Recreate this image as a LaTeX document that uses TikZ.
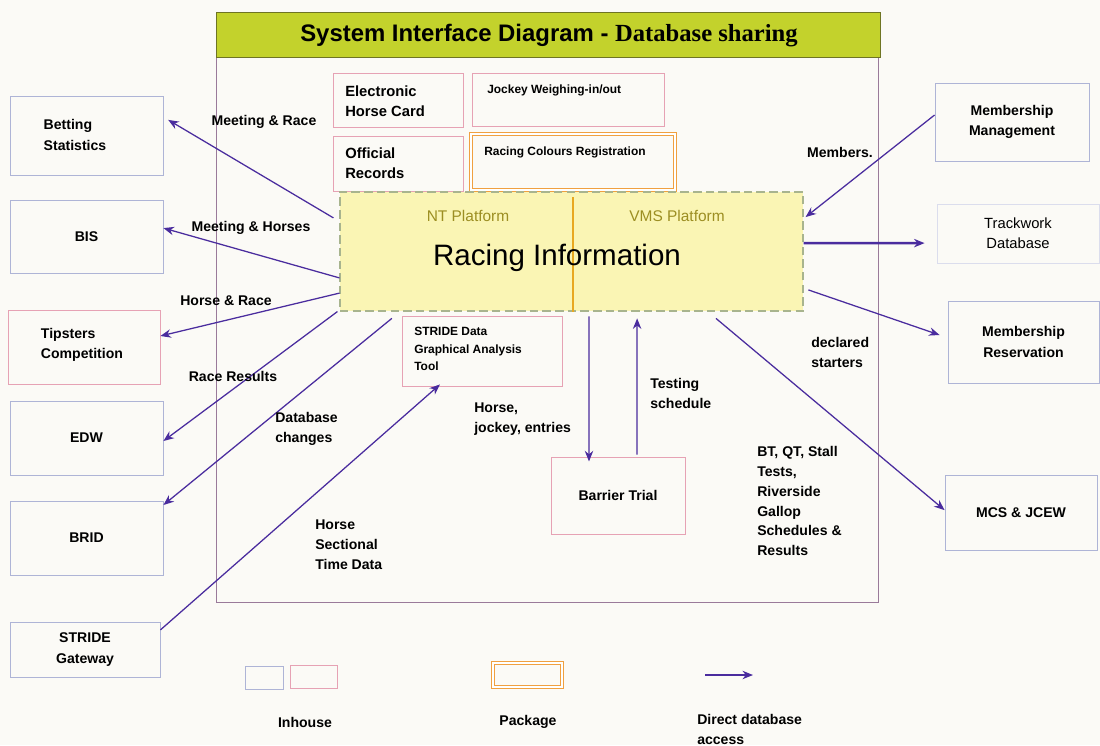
\documentclass[tikz,border=0pt]{standalone}
\usepackage{fontspec}
\setmainfont{Liberation Sans}
\newfontfamily\serifbold{Liberation Serif}
\usetikzlibrary{arrows.meta,fit}

\definecolor{flow}{HTML}{4A2C9E}
\definecolor{inblue}{HTML}{AEB4D6}
\definecolor{inpink}{HTML}{E6A2B4}
\definecolor{pkgorange}{HTML}{F0A040}
\definecolor{framec}{HTML}{9A7A9A}
\definecolor{titlefill}{HTML}{C3D22C}
\definecolor{titleline}{HTML}{6E7424}
\definecolor{rifill}{HTML}{FAF5B4}
\definecolor{riline}{HTML}{A8B48E}
\definecolor{splitc}{HTML}{E8A820}
\definecolor{platc}{HTML}{9C8E22}
\definecolor{paper}{HTML}{FBFAF6}

\tikzset{
  boxfit/.style={inner sep=0pt, line width=0.6pt},
  bluebox/.style={boxfit, draw=inblue},
  pinkbox/.style={boxfit, draw=inpink},
  pkgbox/.style={boxfit, draw=pkgorange, double=white, double distance=1.4pt, line width=0.9pt},
  boxtext/.style={inner sep=0pt, align=center, font=\bfseries\fontsize{10}{14.5}\selectfont},
  smalltext/.style={inner sep=0pt, font=\bfseries\fontsize{8.5}{13}\selectfont},
  flowlabel/.style={inner sep=0pt, align=left, font=\bfseries\fontsize{10}{14.2}\selectfont},
  flowarrow/.style={draw=flow, line width=0.9pt, -{Stealth[length=7.5pt,width=6pt]}},
}

\begin{document}
\begin{tikzpicture}[x=0.025cm, y=-0.025cm]
\useasboundingbox (0,0) rectangle (1100,745);
\fill[paper] (0,0) rectangle (1100,745);

% main frame and title bar
\node[boxfit, draw=framec, fit={(216,57) (878,602)}] (frame) {};
\node[boxfit, draw=titleline, fill=titlefill, fit={(216,12) (880,57)}] (title) {};
\node (titletext) at (549,36) {\bfseries\fontsize{17}{20}\selectfont System Interface Diagram - {\serifbold\fontsize{17.5}{20}\selectfont Database sharing}};

% packages and in-house modules inside the frame
\node[pinkbox, fit={(333,73) (463,127)}] (ehc) {};
\node[boxtext, align=left, anchor=west, font=\bfseries\fontsize{10.5}{14.5}\selectfont] (ehct) at (345,101) {Electronic\\Horse Card};
\node[pinkbox, fit={(472,73) (664,126)}] (jw) {};
\node[smalltext, anchor=west] (jwt) at (487,90) {Jockey Weighing-in/out};
\node[pinkbox, fit={(333,136) (463,191)}] (orec) {};
\node[boxtext, align=left, anchor=west, font=\bfseries\fontsize{10.5}{14.5}\selectfont] (orect) at (345,163) {Official\\Records};
\node[pkgbox, fit={(471,134) (675,190)}] (rcr) {};
\node[smalltext, anchor=west] (rcrt) at (484,152) {Racing Colours Registration};

% central database
\node[boxfit, draw=riline, fill=rifill, dashed, dash pattern=on 6pt off 3pt, line width=0.8pt, fit={(340,192) (803,311)}] (ri) {};
\draw[splitc, line width=1pt] (ri.north) ++(0.04cm,-0.15cm) coordinate (splittop) -- (splittop |- ri.south);
\node[text=platc, font=\fontsize{11}{13}\selectfont] (nt) at (468,216) {NT Platform};
\node[text=platc, font=\fontsize{11}{13}\selectfont] (vms) at (677,216) {VMS Platform};
\node[font=\fontsize{21}{24}\selectfont] (ritext) at (557,258) {Racing Information};

\node[pinkbox, fit={(402,316) (562,386)}] (sdg) {};
\node[smalltext, align=left, anchor=north west, font=\bfseries\fontsize{8.5}{12.5}\selectfont] (sdgt) at (414,327) {STRIDE Data\\Graphical Analysis\\Tool};
\node[pinkbox, fit={(551,457) (685,534)}] (bt) {};
\node[boxtext] (btt) at (bt.center) {Barrier Trial};

% systems on the left
\node[bluebox, fit={(10,96) (163,175)}] (bet) {};
\node[boxtext, align=left] (bett) at (75,135) {Betting\\Statistics};
\node[bluebox, fit={(10,200) (163,273)}] (bis) {};
\node[boxtext] (bist) at (bis.center) {BIS};
\node[pinkbox, fit={(8,310) (160,384)}] (tip) {};
\node[boxtext, align=left] (tipt) at (82,345) {Tipsters\\Competition};
\node[bluebox, fit={(10,401) (163,475)}] (edw) {};
\node[boxtext] (edwt) at (edw.center) {EDW};
\node[bluebox, fit={(10,501) (163,575)}] (brid) {};
\node[boxtext] (bridt) at (brid.center) {BRID};
\node[bluebox, fit={(10,622) (160,677)}] (sg) {};
\node[boxtext] (sgt) at (sg.center) {STRIDE\\Gateway};

% systems on the right
\node[bluebox, fit={(935,83) (1089,161)}] (mm) {};
\node[boxtext] (mmt) at (mm.center) {Membership\\Management};
\node[boxfit, draw=inblue!45, fit={(937,204) (1099,263)}] (tw) {};
\node[boxtext, font=\fontsize{10.5}{14.5}\selectfont] (twt) at (tw.center) {Trackwork\\Database};
\node[bluebox, fit={(948,301) (1099,383)}] (mr) {};
\node[boxtext] (mrt) at (mr.center) {Membership\\Reservation};
\node[bluebox, fit={(945,475) (1097,550)}] (mcs) {};
\node[boxtext] (mcst) at (mcs.center) {MCS \& JCEW};

% data flows
\draw[flowarrow] ([yshift=0.84cm,xshift=-0.15cm]ri.west) -- ([yshift=0.39cm,xshift=0.12cm]bet.east);
\draw[flowarrow] ([yshift=-0.66cm]ri.west) -- ([yshift=0.21cm]bis.east);
\draw[flowarrow] ([yshift=-1.04cm]ri.west) -- ([yshift=0.275cm]tip.east);
\draw[flowarrow] ([xshift=-0.05cm]ri.south west) -- ([yshift=-0.075cm]edw.east);
\draw[flowarrow] ([xshift=-4.49cm,yshift=-0.17cm]ri.south) -- ([yshift=0.825cm]brid.east);
\draw[flowarrow] ([yshift=0.49cm]sg.east) -- ([xshift=-1.05cm,yshift=0.05cm]sdg.south);
\draw[flowarrow] ([xshift=0.44cm,yshift=-0.12cm]ri.south) -- ([xshift=-0.725cm,yshift=-0.12cm]bt.north);
\draw[flowarrow] ([xshift=0.475cm,yshift=0.05cm]bt.north) -- ([xshift=1.64cm,yshift=-0.17cm]ri.south);
\draw[flowarrow] ([xshift=3.61cm,yshift=-0.17cm]ri.south) -- ([yshift=0.06cm]mcs.west);
\draw[flowarrow] ([yshift=0.175cm]mm.west) -- ([yshift=0.86cm,xshift=0.05cm]ri.east);
\draw[flowarrow, line width=1.8pt] ([yshift=0.21cm]ri.east) -- ([xshift=-0.3cm,yshift=-0.24cm]tw.west);
\draw[flowarrow] ([yshift=-0.96cm,xshift=0.12cm]ri.east) -- ([xshift=-0.2cm,yshift=0.175cm]mr.west);

% flow labels
\node[flowlabel] (l1) at (264,122) {Meeting \& Race};
\node[flowlabel] (l2) at (251,228) {Meeting \& Horses};
\node[flowlabel] (l3) at (226,301) {Horse \& Race};
\node[flowlabel] (l4) at (233,376) {Race Results};
\node[flowlabel, anchor=west] (l5) at (275,429) {Database\\changes};
\node[flowlabel, anchor=west] (l6) at (315,545) {Horse\\Sectional\\Time Data};
\node[flowlabel, anchor=west] (l7) at (474,419) {Horse,\\jockey, entries};
\node[flowlabel, anchor=west] (l8) at (650,393) {Testing\\schedule};
\node[flowlabel, anchor=west] (l9) at (757,501) {BT, QT, Stall\\Tests,\\Riverside\\Gallop\\Schedules \&\\Results};
\node[flowlabel] (l10) at (840,152) {Members.};
\node[flowlabel, anchor=west] (l11) at (811,352) {declared\\starters};

% legend
\node[bluebox, fit={(245,666) (283,689)}] (legblue) {};
\node[pinkbox, fit={(290,665) (337,688)}] (legpink) {};
\node[pkgbox, fit={(493,663) (562,687)}] (legpkg) {};
\coordinate (legfrom) at (705,675);
\coordinate (legto) at (753,675);
\draw[flowarrow] (legfrom) -- (legto);
\node[flowlabel] (leg1) at (305,722) {Inhouse};
\node[flowlabel] (leg2) at (528,722) {Package};
\node[flowlabel, anchor=west] (leg3) at (697,729) {Direct database\\access};
\end{tikzpicture}
\end{document}
